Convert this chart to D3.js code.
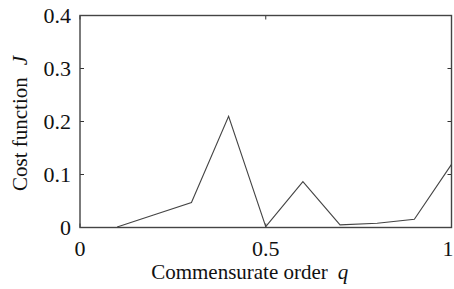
<!DOCTYPE html>
<html><head><meta charset="utf-8">
<script src="https://cdn.jsdelivr.net/npm/d3@7"></script>
<style>body{margin:0;background:#fff}svg{display:block}</style>
</head><body>
<script>
const qValues = [0.1, 0.2, 0.3, 0.4, 0.5, 0.6, 0.7, 0.8, 0.9, 1.0];
const costValues = [0.001, 0.024, 0.047, 0.210, 0.0015, 0.0865, 0.005, 0.008, 0.0155, 0.119];
const xTicks = [0, 0.5, 1];
const yTicks = [0, 0.1, 0.2, 0.3, 0.4];
const xLabel = "Commensurate order";
const xVar = "q";
const yLabel = "Cost function";
const yVar = "J";

const W = 454, H = 289;
const m = {l: 80, r: 2.5, t: 15.5, b: 61.5};
const svg = d3.select("body").append("svg").attr("width", W).attr("height", H)
  .attr("font-family", "'Liberation Serif', 'Times New Roman', 'DejaVu Serif', serif");
const x = d3.scaleLinear().domain([0, 1]).range([m.l, W - m.r]);
const y = d3.scaleLinear().domain([0, 0.4]).range([H - m.b, m.t]);

const fmt = d => d === 0 ? "0" : (d === 1 ? "1" : String(d));

const tl = 4;
const g = svg.append("g").attr("stroke", "#333").attr("stroke-width", 1);
yTicks.forEach(t => {
  g.append("line").attr("x1", x(0)).attr("x2", x(0) + tl).attr("y1", y(t)).attr("y2", y(t));
  g.append("line").attr("x1", x(1)).attr("x2", x(1) - tl).attr("y1", y(t)).attr("y2", y(t));
});
xTicks.forEach(t => {
  g.append("line").attr("x1", x(t)).attr("x2", x(t)).attr("y1", y(0)).attr("y2", y(0) - tl);
  g.append("line").attr("x1", x(t)).attr("x2", x(t)).attr("y1", y(0.4)).attr("y2", y(0.4) + tl);
});

const line = d3.line().x((d, i) => x(qValues[i])).y(d => y(d));
svg.append("path").datum(costValues).attr("d", line)
  .attr("fill", "none").attr("stroke", "#444").attr("stroke-width", 1.1);

svg.append("rect").attr("x", x(0)).attr("y", y(0.4)).attr("width", x(1) - x(0)).attr("height", y(0) - y(0.4))
  .attr("fill", "none").attr("stroke", "#444").attr("stroke-width", 1.4);

yTicks.forEach(t => {
  svg.append("text").attr("x", x(0) - 9).attr("y", y(t)).attr("dy", "0.33em")
    .attr("text-anchor", "end").attr("font-size", 22).attr("fill", "#111").text(fmt(t));
});
xTicks.forEach(t => {
  const last = t === xTicks[xTicks.length - 1];
  svg.append("text").attr("x", last ? W - 0.5 : x(t)).attr("y", y(0) + 28)
    .attr("text-anchor", last ? "end" : "middle").attr("font-size", 22).attr("fill", "#111").text(fmt(t));
});

const xl = svg.append("text").attr("x", (x(0) + x(1)) / 2 - 16).attr("y", 279)
  .attr("text-anchor", "middle").attr("font-size", 21).attr("fill", "#111");
xl.append("tspan").text(xLabel);
xl.append("tspan").attr("dx", 10).attr("font-style", "italic").text(xVar);

const yl = svg.append("text").attr("transform", `translate(27,${(y(0) + y(0.4)) / 2 + 2}) rotate(-90)`)
  .attr("text-anchor", "middle").attr("font-size", 21).attr("fill", "#111");
yl.append("tspan").text(yLabel);
yl.append("tspan").attr("dx", 12).attr("font-style", "italic").text(yVar);
</script>
</body></html>
